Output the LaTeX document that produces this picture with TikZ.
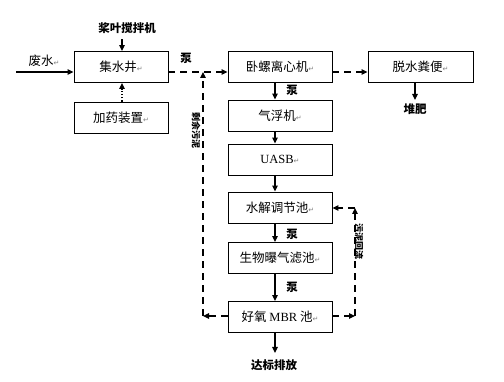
\documentclass[tikz,border=0pt]{standalone}
\usepackage{fontspec}
\setmainfont{Noto Sans CJK SC}
\newfontfamily\latinserif{Liberation Serif}
\newfontfamily\symfont{DejaVu Sans}
\usetikzlibrary{arrows.meta,positioning,calc}
\newcommand{\retmark}{\textcolor{gray}{\symfont\fontsize{7}{7}\selectfont ↵}}

\begin{document}
\begin{tikzpicture}[x=1pt,y=-1pt,
  box/.style={draw,line width=0.9pt,minimum width=104pt,minimum height=31pt,inner sep=0pt,font=\fontsize{12.5}{13}\selectfont},
  lab/.style={font=\fontsize{11.5}{12}\selectfont\bfseries},
  vlab/.style={font=\fontsize{9}{9}\selectfont\bfseries,rotate=-90},
  arr/.style={-{Triangle[length=6pt,width=5.5pt]},line width=1.2pt},
  darr/.style={arr,dash pattern=on 7pt off 5pt}]
\useasboundingbox (0,0) rectangle (504,382);
% left column
\node[box,minimum width=94pt] (well) at (121,67) {集水井\retmark};
\node[box,minimum width=94pt] (dose) at (121,117.5) {加药装置\retmark};
% main column
\node[box] (cent) at (280,67) {卧螺离心机\retmark};
\node[box] (float) at (280,115.5) {气浮机\retmark};
\node[box] (uasb) at (280,159.5) {{\latinserif UASB}\retmark};
\node[box] (hydro) at (280,207.5) {水解调节池\retmark};
\node[box] (baf) at (280,258) {生物曝气滤池\retmark};
\node[box] (mbr) at (280,317) {好氧 {\latinserif MBR} 池\retmark};
\node[box,minimum width=105pt] (dewat) at (420.5,67) {脱水粪便\retmark};
% labels
\node[font=\fontsize{12.5}{13}\selectfont] (wastewater) at (44,61) {废水\retmark};
\node[lab] (mixer) at (127,28) {桨叶搅拌机};
\node[lab] (pump1) at (186,58) {泵};
\node[lab] (pump2) at (292,90) {泵};
\node[lab] (pump3) at (292,234) {泵};
\node[lab] (pump4) at (292,287) {泵};
\node[lab] (compost) at (415,109) {堆肥};
\node[lab] (outlet) at (274,365) {达标排放};
\node[vlab] (excess) at (196,131) {剩余污泥};
\node[vlab] (return) at (359,242) {污泥回流};
% helper points
\coordinate (inlet) at (16,72);
\coordinate (join) at (203,72);
\coordinate (lcorner) at (203,316);
\coordinate (rcorner) at (355,316);
\coordinate (rtop) at (355,208);
% connectors
\draw[arr] (inlet) -- (inlet -| well.west);
\draw[arr] (mixer.south -| 122,0) ++(0,2) -- (122,0 |- well.north);
\draw[arr,dotted] (122,0 |- dose.north) -- (122,0 |- well.south);
\draw[darr] (join -| well.east) -- (join -| cent.west);
\draw[darr] (join -| cent.east) -- (join -| dewat.west);
\draw[arr] (415,0 |- dewat.south) -- (415,100);
\draw[arr] (275,0 |- cent.south) -- (275,0 |- float.north);
\draw[arr] (275,0 |- float.south) -- (275,0 |- uasb.north);
\draw[arr] (275,0 |- uasb.south) -- (275,0 |- hydro.north);
\draw[arr] (275,0 |- hydro.south) -- (275,0 |- baf.north);
\draw[arr] (275,0 |- baf.south) -- (275,0 |- mbr.north);
\draw[arr] (275,0 |- mbr.south) -- (275,353);
\draw[darr] (lcorner -| mbr.west) -- (lcorner);
\draw[darr] (lcorner) -- (join);
\draw[darr] (rcorner -| mbr.east) -- (rcorner);
\draw[darr] (rcorner) -- (rtop);
\draw[darr] (rtop) -- (rtop -| hydro.east);
\end{tikzpicture}
\end{document}
